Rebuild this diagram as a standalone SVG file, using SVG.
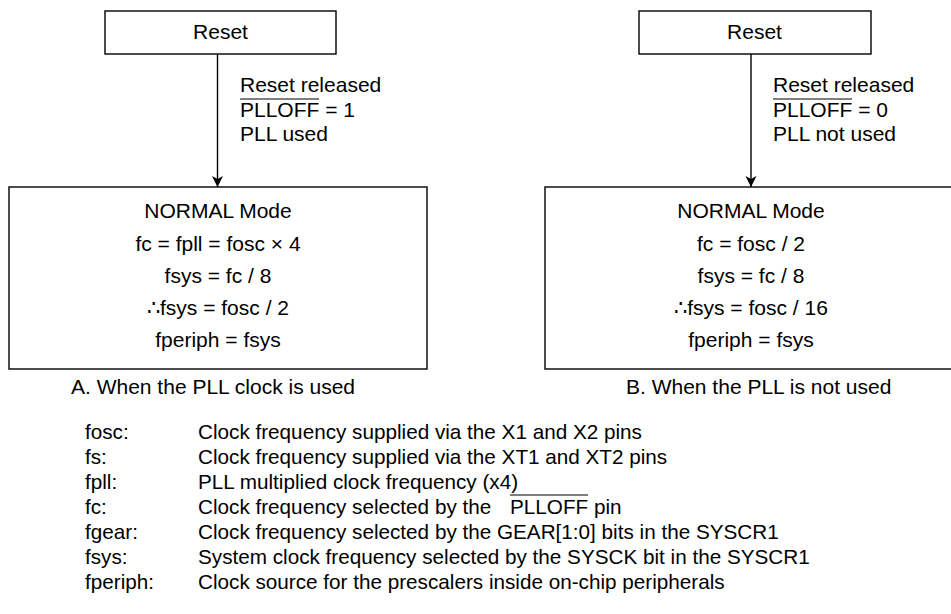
<svg xmlns="http://www.w3.org/2000/svg" width="951" height="614" viewBox="0 0 951 614">
<style>
text{font-family:"Liberation Sans",Arial,sans-serif;font-size:21px;fill:#000}
.c{text-anchor:middle}
.box{fill:#fff;stroke:#000;stroke-width:1.4}
.ln{stroke:#000;stroke-width:1.4;fill:none}
.ov{stroke:#000;stroke-width:1.2}
.lg{font-size:20.7px}
</style>
<defs>
<marker id="ah" markerWidth="12" markerHeight="12" refX="11" refY="5.5" orient="auto" markerUnits="userSpaceOnUse">
<path d="M0,0 L11,5.5 L0,11 L3,5.5 Z" fill="#000"/>
</marker>
</defs>
<rect width="951" height="614" fill="#fff"/>
<g id="resetA"><rect class="box" x="105" y="11" width="231" height="43"/><text class="c" x="220.5" y="39">Reset</text></g>
<g id="normalA"><rect class="box" x="9" y="187" width="418" height="182"/>
<text class="c" x="218" y="218">NORMAL Mode</text>
<text class="c" x="218" y="251">fc = fpll = fosc × 4</text>
<text class="c" x="218" y="283">fsys = fc / 8</text>
<text class="c" x="218" y="315">∴fsys = fosc / 2</text>
<text class="c" x="218" y="347">fperiph = fsys</text></g>
<g id="resetB"><rect class="box" x="639" y="11" width="232" height="43"/><text class="c" x="754.5" y="39">Reset</text></g>
<g id="normalB"><rect class="box" x="545" y="187" width="418" height="182"/>
<text class="c" x="751" y="218">NORMAL Mode</text>
<text class="c" x="751" y="251">fc = fosc / 2</text>
<text class="c" x="751" y="283">fsys = fc / 8</text>
<text class="c" x="751" y="315">∴fsys = fosc / 16</text>
<text class="c" x="751" y="347">fperiph = fsys</text></g>
<g id="connectors">
<line class="ln" x1="217.5" y1="54" x2="217.5" y2="187" marker-end="url(#ah)"/>
<line class="ln" x1="751" y1="54" x2="751" y2="187" marker-end="url(#ah)"/>
</g>
<g id="labelA">
<text x="240" y="92">Reset released</text>
<text x="240" y="117">PLLOFF = 1</text>
<line class="ov" x1="240" y1="99" x2="319" y2="99"/>
<text x="240" y="141">PLL used</text>
</g>
<g id="labelB">
<text x="773" y="92">Reset released</text>
<text x="773" y="117">PLLOFF = 0</text>
<line class="ov" x1="773" y1="99" x2="852" y2="99"/>
<text x="773" y="141">PLL not used</text>
</g>
<g id="captions">
<text x="71" y="394">A. When the PLL clock is used</text>
<text x="626" y="394">B. When the PLL is not used</text>
</g>
<g id="legend">
<text class="lg" x="85" y="439">fosc:</text><text class="lg" x="198" y="439">Clock frequency supplied via the X1 and X2 pins</text>
<text class="lg" x="85" y="464">fs:</text><text class="lg" x="198" y="464">Clock frequency supplied via the XT1 and XT2 pins</text>
<text class="lg" x="85" y="489">fpll:</text><text class="lg" x="198" y="489">PLL multiplied clock frequency (x4)</text>
<text class="lg" x="85" y="514">fc:</text><text class="lg" x="198" y="514">Clock frequency selected by the <tspan x="510">PLLOFF</tspan> pin</text>
<line class="ov" x1="510" y1="495" x2="588" y2="495"/>
<text class="lg" x="85" y="539">fgear:</text><text class="lg" x="198" y="539">Clock frequency selected by the GEAR[1:0] bits in the SYSCR1</text>
<text class="lg" x="85" y="564">fsys:</text><text class="lg" x="198" y="564">System clock frequency selected by the SYSCK bit in the SYSCR1</text>
<text class="lg" x="85" y="589">fperiph:</text><text class="lg" x="198" y="589">Clock source for the prescalers inside on-chip peripherals</text>
</g>
</svg>
